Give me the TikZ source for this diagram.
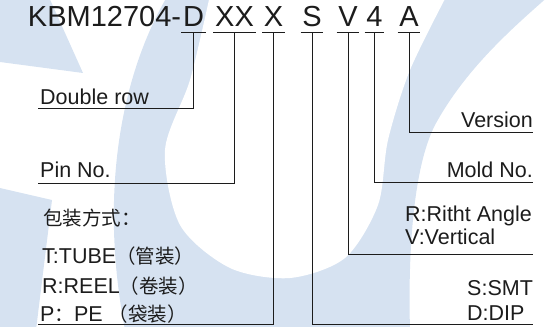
\documentclass[tikz,border=0pt]{standalone}
\usepackage{fontspec}
\setmainfont{Liberation Sans}
\newfontfamily\cjk{Noto Sans CJK SC}
\definecolor{marca}{RGB}{214,226,241}
\definecolor{tinta}{RGB}{28,28,28}
\tikzset{
  codigo/.style={font=\fontsize{29}{34}\selectfont, text=tinta, anchor=base,
    inner xsep=1.5pt, inner ysep=0pt, text depth=5pt},
  etiq/.style={font=\fontsize{21.5}{26}\selectfont, text=tinta, inner sep=0pt},
  chino/.style={etiq, anchor=base west},
  raya/.style={draw=tinta, line width=0.9pt}
}
\newcommand{\cjkt}[1]{{\cjk\fontsize{19.5}{24}\selectfont #1}}

\begin{document}
\begin{tikzpicture}[x=1pt, y=-1pt]
\useasboundingbox (0,0) rectangle (545,326);

% Marca de agua
\begin{scope}
	\clip (0,0) rectangle (545,326);
	\fill[marca] (0,-5) -- (48,-5) -- (83,73) -- (0,62) -- cycle;
	\fill[marca] (0,188) -- (52,200) -- (36,330) -- (0,330) -- cycle;
	\fill[marca] (168,-5) .. controls (118,80) and (100,200) .. (125,330) -- (410,330)
		.. controls (408,260) and (412,170) .. (435,125)
		.. controls (465,70) and (510,30) .. (550,-5) -- cycle;
	\fill[white] plot[smooth] coordinates {(210,-5) (190,80) (165,150) (180,225)
		(230,268) (290,278) (345,258) (378,205) (388,140) (410,70) (447,-5)} -- cycle;
\end{scope}

% Codigo
\node[codigo] (kD) at (193.5,27) {D};
\node[codigo, anchor=base east, inner xsep=0pt] (kpre) at (kD.base west) {KBM12704-};
\foreach \n/\x in {XX/234.5, X/273.5, S/312, V/348, 4/374.5, A/409}
	\node[codigo] (k\n) at (\x,27) {\n};

\foreach \n in {D, XX, X, S, V, 4, A}
	\draw[raya] (k\n.south west) -- (k\n.south east);

% Etiquetas izquierda
\node[etiq, anchor=base west] (dbl) at (40,104) {Double row};
\node[etiq, anchor=base west] (pin) at (40,177) {Pin No.};
\node[chino] (pk0) at (43,225) {\cjkt{包装方式：}};
\node[chino] (pk1) at (42,263) {T:TUBE\cjkt{（管装）}};
\node[chino] (pk2) at (42,293) {R:REEL\cjkt{（卷装）}};
\node[chino] (pk3) at (40,321.5) {P\cjkt{：}PE \cjkt{（袋装）}};

% Etiquetas derecha
\node[etiq, anchor=base east] (ver) at (533,127) {Version};
\node[etiq, anchor=base east] (mold) at (533,177) {Mold No.};
\node[etiq, anchor=base west] (ang1) at (405,221) {R:Ritht Angle};
\node[etiq, anchor=base west] (ang2) at (405,244) {V:Vertical};
\node[etiq, anchor=base west] (smt1) at (467,295) {S:SMT};
\node[etiq, anchor=base west] (smt2) at (467,320) {D:DIP};

% Lineas
\coordinate (dblL) at (38,108);
\coordinate (pinL) at (38,183);
\coordinate (pkL) at (38,324.5);
\coordinate (verR) at (533,132);
\coordinate (moldR) at (533,182);
\coordinate (angR) at (533,254);
\coordinate (smtR) at (533,324.5);

\foreach \a/\b in {D/dblL, XX/pinL, X/pkL, S/smtR, V/angR, 4/moldR, A/verR}
	\draw[raya] (k\a.south) |- (\b);
\end{tikzpicture}
\end{document}
